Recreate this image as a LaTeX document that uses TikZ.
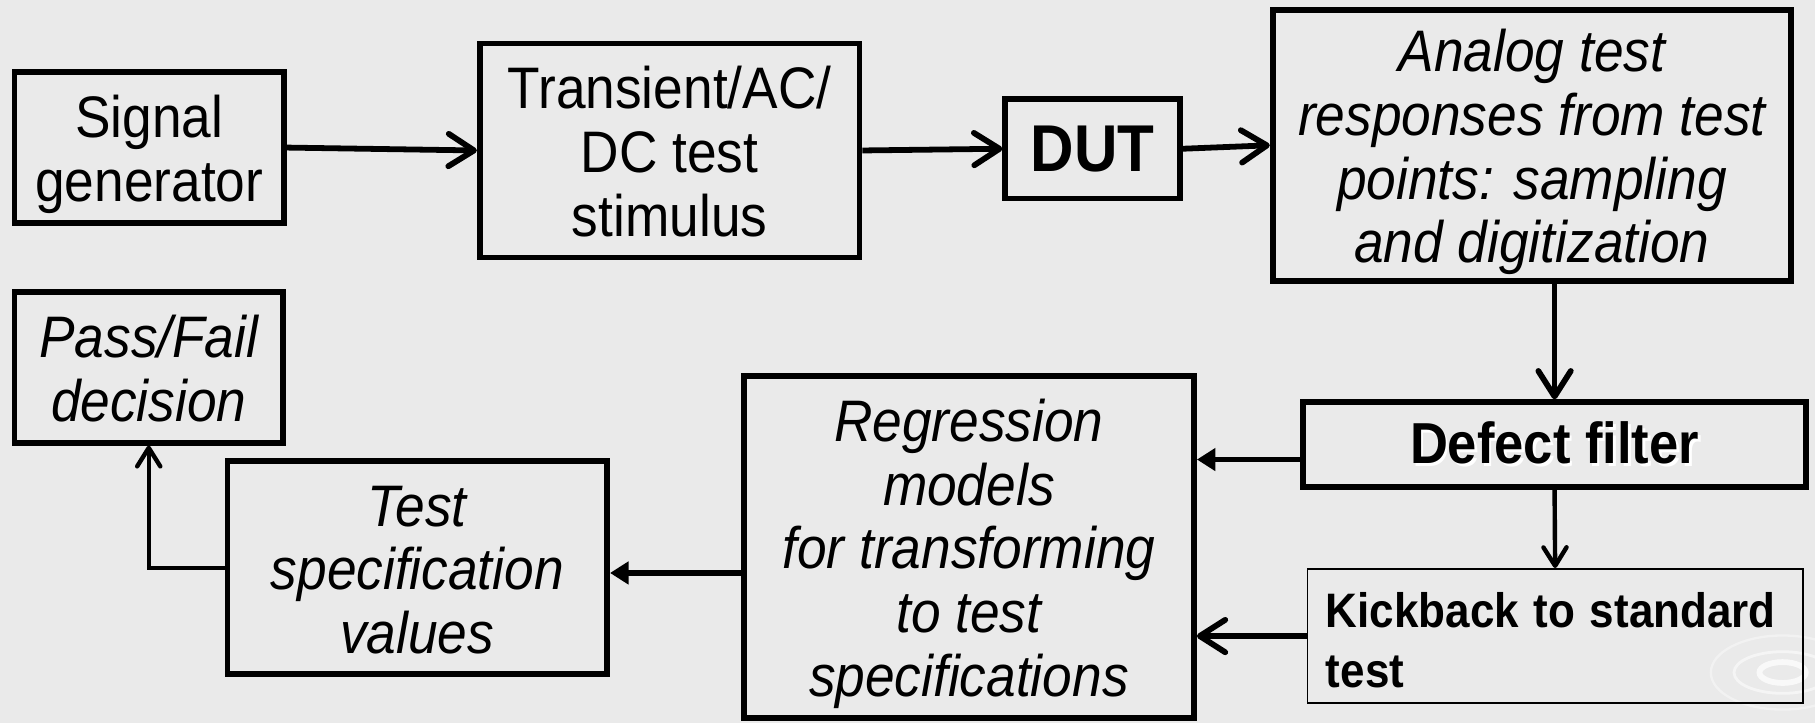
\documentclass[tikz,border=0pt]{standalone}
\usepackage{fontspec}
\setmainfont{Liberation Sans}
\usepackage{graphicx}
\usetikzlibrary{arrows.meta}
\definecolor{bg}{RGB}{234,234,234}
% multi-line label, slightly stretched vertically and lowered a little
\newcommand\bx[2]{\raisebox{-4pt}[\height][\depth]{\scalebox{1}[1.1]{\begin{tabular}{@{}#1@{}}#2\end{tabular}}}}
% text with a faint white drop shadow
\newcommand\glowtext[1]{\makebox[0pt][l]{\kern1.2pt\raisebox{-1.2pt}{\color{white}#1}}#1}

\begin{document}
\begin{tikzpicture}[x=0.5pt,y=-0.5pt,
  blk/.style={draw, line width=2.5pt, inner sep=0pt, align=center,
    font=\fontsize{23}{25}\selectfont},
  thinblk/.style={draw, line width=0.75pt, inner ysep=0pt, inner xsep=8pt,
    align=left, font=\fontsize{19}{23.5}\selectfont\bfseries},
  big/.style={line width=2.5pt, -{Straight Barb[length=11pt,width=14pt,round]}},
  small/.style={line width=1.9pt, -{Straight Barb[length=8pt,width=10pt,round]}},
  solidhead/.style={line width=2.5pt, -{Triangle[length=8pt,width=9.5pt]}},
]
% background
\fill[bg] (0,0) rectangle (1568,625);
\useasboundingbox (0,0) rectangle (1568,625);

% faint ripple ornament in the lower right corner
\begin{scope}
  \clip (0,0) rectangle (1568,625);
  \draw[white, opacity=0.75, line width=2.5pt] (1540,581) ellipse [x radius=10pt, y radius=4.5pt];
  \draw[white, opacity=0.55, line width=1.2pt] (1540,581) ellipse [x radius=21pt, y radius=9pt];
  \draw[white, opacity=0.4, line width=1pt] (1540,581) ellipse [x radius=31pt, y radius=16pt];
\end{scope}

% blocks
\node[blk, minimum width=116.5pt, minimum height=65pt] (sg) at (129,127.5)
  {\bx{c}{Signal\\generator}};
\node[blk, minimum width=164pt, minimum height=92.5pt] (stim) at (578.5,130)
  {\bx{c}{Transient/AC/\\DC test\\stimulus}};
\node[blk, minimum width=75.5pt, minimum height=43pt,
  font=\fontsize{26}{28}\selectfont\bfseries] (dut) at (944,128.5)
  {\scalebox{1}[1.1]{DUT}};
\node[blk, minimum width=224pt, minimum height=117pt, font=\fontsize{23}{25}\selectfont\itshape]
  (ana) at (1323.5,125.5)
  {\bx{c}{Analog test\\responses from test\\points: sampling\\and digitization}};
\node[blk, minimum width=217.5pt, minimum height=36.5pt,
  font=\fontsize{22.7}{25}\selectfont\bfseries] (def) at (1343,384)
  {\scalebox{1}[1.1]{\glowtext{Defect filter}}};
\node[thinblk, text width=198pt, minimum height=58pt] (kick) at (1343.5,549.5)
  {\bx{l}{Kickback to standard\\test}};
\node[blk, minimum width=194.5pt, minimum height=148pt, font=\fontsize{23}{25}\selectfont\itshape]
  (reg) at (837,472.5)
  {\bx{c}{Regression\\models\\for transforming\\to test\\specifications}};
\node[blk, minimum width=164pt, minimum height=92pt, font=\fontsize{23}{25}\selectfont\itshape]
  (spec) at (360.5,490.5)
  {\bx{c}{Test\\specification\\values}};
\node[blk, minimum width=116pt, minimum height=65pt, font=\fontsize{23}{25}\selectfont\itshape]
  (pf) at (128.5,317.5)
  {\bx{c}{Pass/Fail\\decision}};

% connectors
\draw[big] (sg.east) -- (stim.west);
\draw[big] (stim.east) -- (dut.west);
\draw[big] (dut.east) -- (ana.west);
\draw[big] (def.north |- ana.south) -- (def.north);
\draw[small] (def.south) -- (kick.north);
\coordinate (d1) at ([yshift=-6.5pt]def.west);
\draw[solidhead] (d1) -- (d1 -| reg.east);
\draw[big] (kick.west) -- (kick.west -| reg.east);
\coordinate (r1) at ([yshift=-2.25pt]spec.east);
\draw[solidhead] (r1 -| reg.west) -- (r1);
\draw[small] (spec.west) -| (pf.south);
\end{tikzpicture}
\end{document}
